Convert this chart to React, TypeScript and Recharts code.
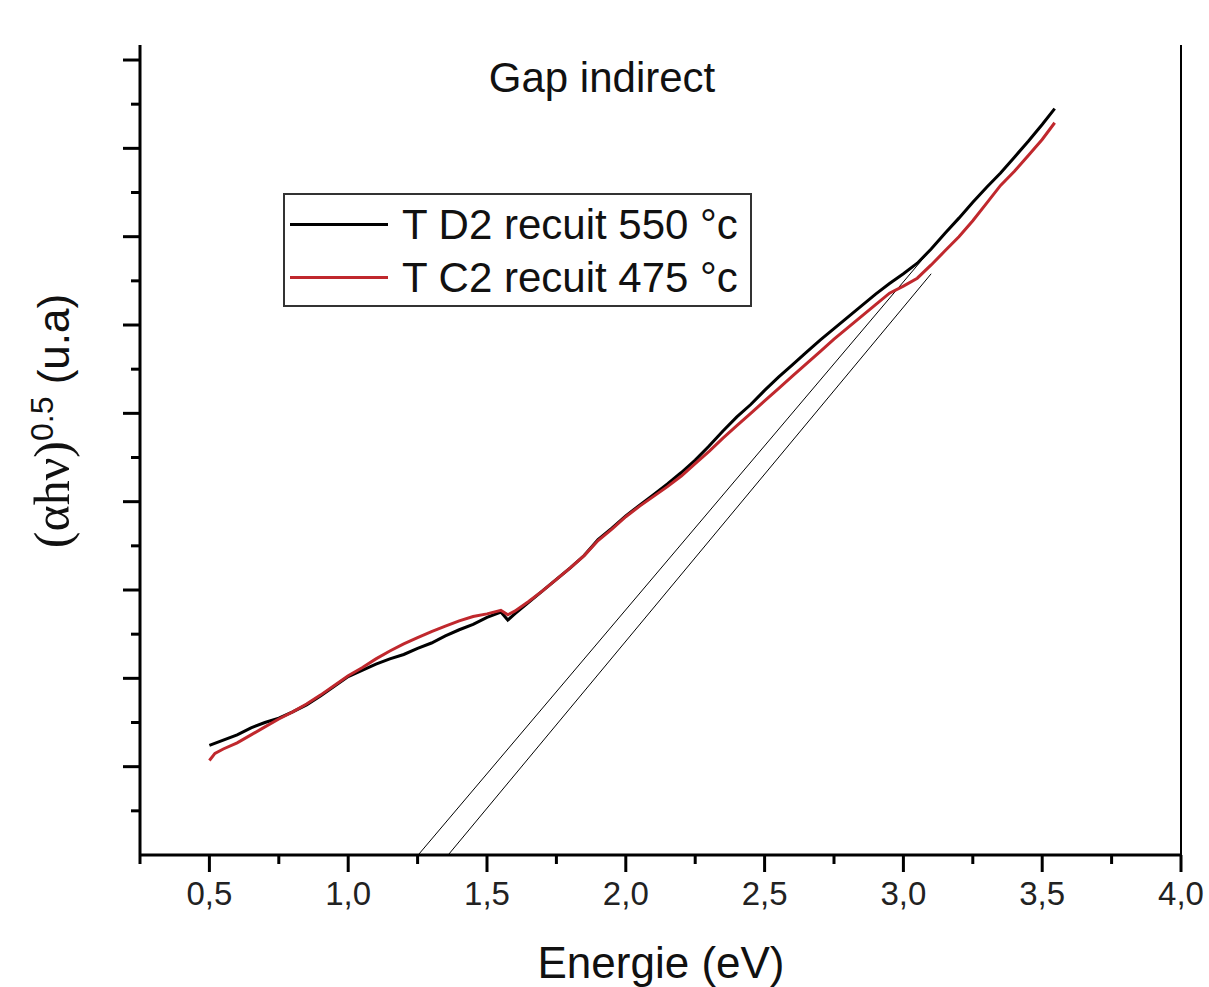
import React from 'react';
import {
  LineChart,
  Line,
  XAxis,
  YAxis,
  ReferenceLine,
} from 'recharts';

// photon energy (eV) and (alpha h nu)^0.5 values
const energyD2 = [
  0.5, 0.55, 0.6, 0.65, 0.7, 0.75, 0.8, 0.85, 0.9, 0.95, 1.0, 1.05, 1.1, 1.15, 1.2, 1.25, 1.3, 1.35,
  1.4, 1.45, 1.5, 1.55, 1.575, 1.6, 1.65, 1.7, 1.75, 1.8, 1.85, 1.9, 1.95, 2.0, 2.05, 2.1, 2.15, 2.2,
  2.25, 2.3, 2.35, 2.4, 2.45, 2.5, 2.55, 2.6, 2.65, 2.7, 2.75, 2.8, 2.85, 2.9, 2.95, 3.0, 3.05, 3.1,
  3.15, 3.2, 3.25, 3.3, 3.35, 3.4, 3.45, 3.5, 3.545,
];
const valuesD2 = [
  1.24, 1.3, 1.36, 1.44, 1.5, 1.55, 1.62, 1.7, 1.8, 1.91, 2.02, 2.09, 2.16, 2.22, 2.27, 2.34, 2.4, 2.48,
  2.55, 2.61, 2.69, 2.75, 2.66, 2.73, 2.86, 2.99, 3.12, 3.25, 3.39, 3.57, 3.7, 3.84, 3.96, 4.08, 4.2, 4.33,
  4.47, 4.63, 4.8, 4.96, 5.1, 5.26, 5.41, 5.55, 5.69, 5.83, 5.96, 6.09, 6.22, 6.35, 6.47, 6.58, 6.7, 6.86,
  7.04, 7.21, 7.39, 7.56, 7.72, 7.9, 8.08, 8.27, 8.45,
];

const energyC2 = [
  0.5, 0.52, 0.55, 0.6, 0.65, 0.7, 0.75, 0.8, 0.85, 0.9, 0.95, 1.0, 1.05, 1.1, 1.15, 1.2, 1.25, 1.3,
  1.35, 1.4, 1.45, 1.5, 1.55, 1.575, 1.6, 1.65, 1.7, 1.75, 1.8, 1.85, 1.9, 1.95, 2.0, 2.05, 2.1, 2.15,
  2.2, 2.25, 2.3, 2.35, 2.4, 2.45, 2.5, 2.55, 2.6, 2.65, 2.7, 2.75, 2.8, 2.85, 2.9, 2.95, 3.0, 3.05,
  3.1, 3.15, 3.2, 3.25, 3.3, 3.35, 3.4, 3.45, 3.5, 3.545,
];
const valuesC2 = [
  1.07, 1.15, 1.2, 1.27, 1.36, 1.45, 1.54, 1.62, 1.71, 1.81, 1.92, 2.03, 2.12, 2.22, 2.31, 2.39, 2.46, 2.53,
  2.59, 2.65, 2.7, 2.73, 2.77, 2.72, 2.76, 2.87, 2.99, 3.12, 3.25, 3.39, 3.56, 3.69, 3.83, 3.95, 4.06, 4.17,
  4.29, 4.43, 4.57, 4.72, 4.86, 5.0, 5.14, 5.28, 5.42, 5.56, 5.7, 5.84, 5.97, 6.1, 6.23, 6.36, 6.44, 6.53,
  6.68, 6.84, 7.0, 7.18, 7.38, 7.58, 7.74, 7.92, 8.1, 8.29,
];

// linear extrapolations down to the energy axis
const tangentD2X = [1.252, 3.1];
const tangentD2Y = [0, 6.86];
const tangentC2X = [1.36, 3.1];
const tangentC2Y = [0, 6.58];

const seriesNames = ['T D2 recuit 550 °c', 'T C2 recuit 475 °c'];
const seriesColors = ['#000000', '#c0282d'];

const xTicks = [0.25, 0.5, 0.75, 1, 1.25, 1.5, 1.75, 2, 2.25, 2.5, 2.75, 3, 3.25, 3.5, 3.75, 4];
const yTicks = [0.5, 1, 1.5, 2, 2.5, 3, 3.5, 4, 4.5, 5, 5.5, 6, 6.5, 7, 7.5, 8, 8.5, 9];

const zip = (xs: number[], ys: number[]) => xs.map((x, i) => ({ x, y: ys[i] }));

const sans = "Arial, 'Liberation Sans', sans-serif";
const serif = "'Times New Roman', 'Liberation Serif', serif";

const isMajor = (v: number) => Math.abs(v * 2 - Math.round(v * 2)) < 1e-6;

const XTick = (props: any) => {
  const { x, y, payload } = props;
  const major = isMajor(payload.value);
  return (
    <g>
      <line x1={x} x2={x} y1={y} y2={y + (major ? 17 : 9)} stroke="#000" strokeWidth={3} />
      {major && (
        <text x={x} y={y + 50} textAnchor="middle" fontSize={33} fontFamily={sans} fill="#222">
          {payload.value.toFixed(1).replace('.', ',')}
        </text>
      )}
    </g>
  );
};

const YTick = (props: any) => {
  const { x, y, payload } = props;
  const major = Number.isInteger(payload.value);
  return <line x1={x - (major ? 17 : 9)} x2={x} y1={y} y2={y} stroke="#000" strokeWidth={3} />;
};

export default function App() {
  return (
    <div style={{ position: 'relative', width: 1209, height: 987, overflow: 'hidden', background: '#fff' }}>
      <style>{'body { margin: 0; } .recharts-surface { overflow: visible; }'}</style>
      <LineChart width={1209} height={987} margin={{ top: 45, right: 28, left: 60, bottom: 52 }}>
        <XAxis
          type="number"
          dataKey="x"
          domain={[0.25, 4]}
          ticks={xTicks}
          interval={0}
          allowDataOverflow
          height={80}
          axisLine={{ stroke: '#000', strokeWidth: 3 }}
          tickLine={false}
          tickSize={0}
          tickMargin={0}
          tick={<XTick />}
        />
        <YAxis
          type="number"
          dataKey="y"
          domain={[0, 9.17]}
          ticks={yTicks}
          interval={0}
          allowDataOverflow
          width={80}
          axisLine={{ stroke: '#000', strokeWidth: 3 }}
          tickLine={false}
          tickSize={0}
          tickMargin={0}
          tick={<YTick />}
        />
        <ReferenceLine x={4} stroke="#000" strokeWidth={2} />
        <Line
          data={zip(tangentD2X, tangentD2Y)}
          dataKey="y"
          stroke="#000"
          strokeWidth={1}
          dot={false}
          legendType="none"
          isAnimationActive={false}
        />
        <Line
          data={zip(tangentC2X, tangentC2Y)}
          dataKey="y"
          stroke="#000"
          strokeWidth={1}
          dot={false}
          legendType="none"
          isAnimationActive={false}
        />
        <Line
          name={seriesNames[0]}
          data={zip(energyD2, valuesD2)}
          dataKey="y"
          stroke={seriesColors[0]}
          strokeWidth={3}
          dot={false}
          isAnimationActive={false}
        />
        <Line
          name={seriesNames[1]}
          data={zip(energyC2, valuesC2)}
          dataKey="y"
          stroke={seriesColors[1]}
          strokeWidth={3}
          dot={false}
          isAnimationActive={false}
        />
      </LineChart>

      {/* legend box */}
      <div
        style={{
          position: 'absolute',
          left: 283,
          top: 193,
          width: 465,
          height: 110,
          border: '2px solid #333',
          background: '#fff',
          fontFamily: sans,
        }}
      >
        {seriesNames.map((name, i) => (
          <div key={name} style={{ display: 'flex', alignItems: 'center', height: 55, marginTop: i === 0 ? 2 : -2 }}>
            <div style={{ width: 98, height: 3, background: seriesColors[i], marginLeft: 5, marginRight: 14 }} />
            <span style={{ fontSize: 42, color: '#111', lineHeight: '55px', whiteSpace: 'nowrap' }}>{name}</span>
          </div>
        ))}
      </div>

      <div
        style={{
          position: 'absolute',
          left: 602,
          top: 78,
          transform: 'translate(-50%, -50%)',
          fontFamily: sans,
          fontSize: 42,
          color: '#111',
          whiteSpace: 'nowrap',
        }}
      >
        Gap indirect
      </div>
      <div
        style={{
          position: 'absolute',
          left: 661,
          top: 941,
          height: 44,
          transform: 'translateX(-50%)',
          fontFamily: sans,
          fontSize: 44,
          lineHeight: '44px',
          color: '#111',
          whiteSpace: 'nowrap',
        }}
      >
        Energie (eV)
      </div>
      <div
        style={{
          position: 'absolute',
          left: 52,
          top: 421,
          transform: 'translate(-50%, -50%) rotate(-90deg)',
          fontFamily: sans,
          fontSize: 44,
          color: '#111',
          whiteSpace: 'nowrap',
        }}
      >
        <span style={{ fontFamily: serif, fontSize: 50 }}>(αhν)</span>
        <sup style={{ fontSize: 32 }}>0.5</sup> (u.a)
      </div>
    </div>
  );
}
